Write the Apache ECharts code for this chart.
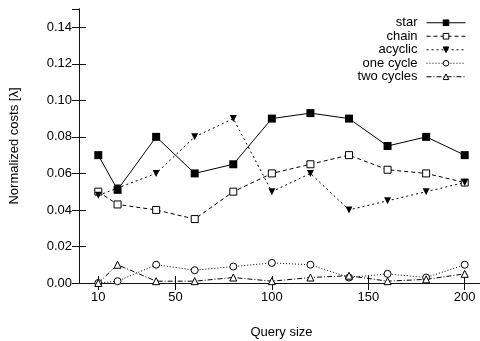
<!DOCTYPE html>
<html>
<head>
<meta charset="UTF-8">
<title>Normalized costs</title>
<script src="https://cdn.jsdelivr.net/npm/echarts@6/dist/echarts.min.js"></script>
<style>
  html, body { margin: 0; padding: 0; background: #fff; }
  #main { width: 480px; height: 341px; }
</style>
</head>
<body>
<div id="main"></div>
<script type="text/javascript">
// data
var querySize = [10, 20, 40, 60, 80, 100, 120, 140, 160, 180, 200];
var star      = [0.070, 0.051, 0.080, 0.060, 0.065, 0.090, 0.093, 0.090, 0.075, 0.080, 0.070];
var chain     = [0.050, 0.043, 0.040, 0.035, 0.050, 0.060, 0.065, 0.070, 0.062, 0.060, 0.055];
var acyclic   = [0.048, 0.052, 0.060, 0.080, 0.090, 0.050, 0.060, 0.040, 0.045, 0.050, 0.055];
var oneCycle  = [0.000, 0.001, 0.010, 0.007, 0.009, 0.011, 0.010, 0.003, 0.005, 0.003, 0.010];
var twoCycles = [0.000, 0.010, 0.001, 0.001, 0.003, 0.001, 0.003, 0.004, 0.001, 0.002, 0.005];
var xTicks = [10, 50, 100, 150, 200];

(function () {
  var myChart = echarts.init(document.getElementById('main'));
  var font = 'Liberation Sans, Arial, sans-serif';
  var axisCol = '#111';

  function pairs(ys) {
    var out = [];
    for (let i = 0; i < querySize.length; i++) {
      out.push([querySize[i], ys[i]]);
    }
    return out;
  }

  // hollow marks are drawn as white-filled shapes with a thin black border
  function mkSeries(name, ys, symbol, size, dash, hollow, rotate) {
    return {
      name: name,
      type: 'line',
      data: pairs(ys),
      symbol: symbol,
      symbolSize: size,
      symbolRotate: rotate || 0,
      showAllSymbol: true,
      animation: false,
      lineStyle: { color: '#000', width: 1, type: dash },
      itemStyle: { color: hollow ? '#fff' : '#000', borderColor: '#000', borderWidth: hollow ? 1 : 0 },
      emphasis: { disabled: true }
    };
  }

  var xBase = {
    type: 'value', min: 0, max: 210,
    axisLine: { lineStyle: { color: axisCol, width: 1 } },
    axisTick: { inside: true, length: 7, customValues: xTicks, lineStyle: { color: axisCol } },
    splitLine: { show: false }
  };
  var yBase = {
    type: 'value', min: 0, max: 0.15, interval: 0.02,
    axisLine: { show: true, lineStyle: { color: axisCol, width: 1 } },
    axisTick: { show: true, inside: true, length: 7, lineStyle: { color: axisCol } },
    splitLine: { show: false }
  };

  var option = {
    backgroundColor: '#fff',
    animation: false,
    grid: { left: 79, right: -4, top: 9, bottom: 58, outerBoundsMode: 'none', containLabel: false },
    legend: {
      orient: 'vertical',
      right: 14,
      top: 16,
      padding: 0,
      align: 'right',
      itemWidth: 39,
      itemHeight: 7,
      itemGap: 0,
      selectedMode: false,
      lineStyle: { width: 1 },
      itemStyle: { borderWidth: 1 },
      textStyle: { fontFamily: font, fontSize: 13, color: '#000', lineHeight: 13.5, height: 13.5, padding: [0, 4, 0, 0] },
      data: ['star', 'chain', 'acyclic', 'one cycle', 'two cycles']
    },
    xAxis: [
      Object.assign({}, xBase, {
        position: 'bottom',
        name: 'Query size',
        nameLocation: 'middle',
        nameGap: 43,
        nameTextStyle: { fontFamily: font, fontSize: 13, color: '#000' },
        axisLabel: { customValues: xTicks, margin: 8, fontFamily: font, fontSize: 13, color: '#000' }
      }),
      Object.assign({}, xBase, { position: 'top', axisLabel: { show: false } })
    ],
    yAxis: [
      Object.assign({}, yBase, {
        position: 'left',
        name: 'Normalized costs [\u03bb]',
        nameLocation: 'middle',
        nameGap: 58,
        nameTextStyle: { fontFamily: font, fontSize: 13, color: '#000' },
        axisLabel: {
          showMaxLabel: false, margin: 7, fontFamily: font, fontSize: 13, color: '#000',
          formatter: function (v) { return v.toFixed(2); }
        }
      }),
      Object.assign({}, yBase, { position: 'right', axisLabel: { show: false } })
    ],
    series: [
      mkSeries('star', star, 'rect', 8, 'solid', false),
      mkSeries('chain', chain, 'rect', 7, [4, 3], true),
      mkSeries('acyclic', acyclic, 'triangle', 7, [2, 3], false, 180),
      mkSeries('one cycle', oneCycle, 'circle', 7, [1, 2], true),
      mkSeries('two cycles', twoCycles, 'triangle', 7, [5, 2, 1, 2], true)
    ]
  };

  myChart.setOption(option);
})();
</script>
</body>
</html>
